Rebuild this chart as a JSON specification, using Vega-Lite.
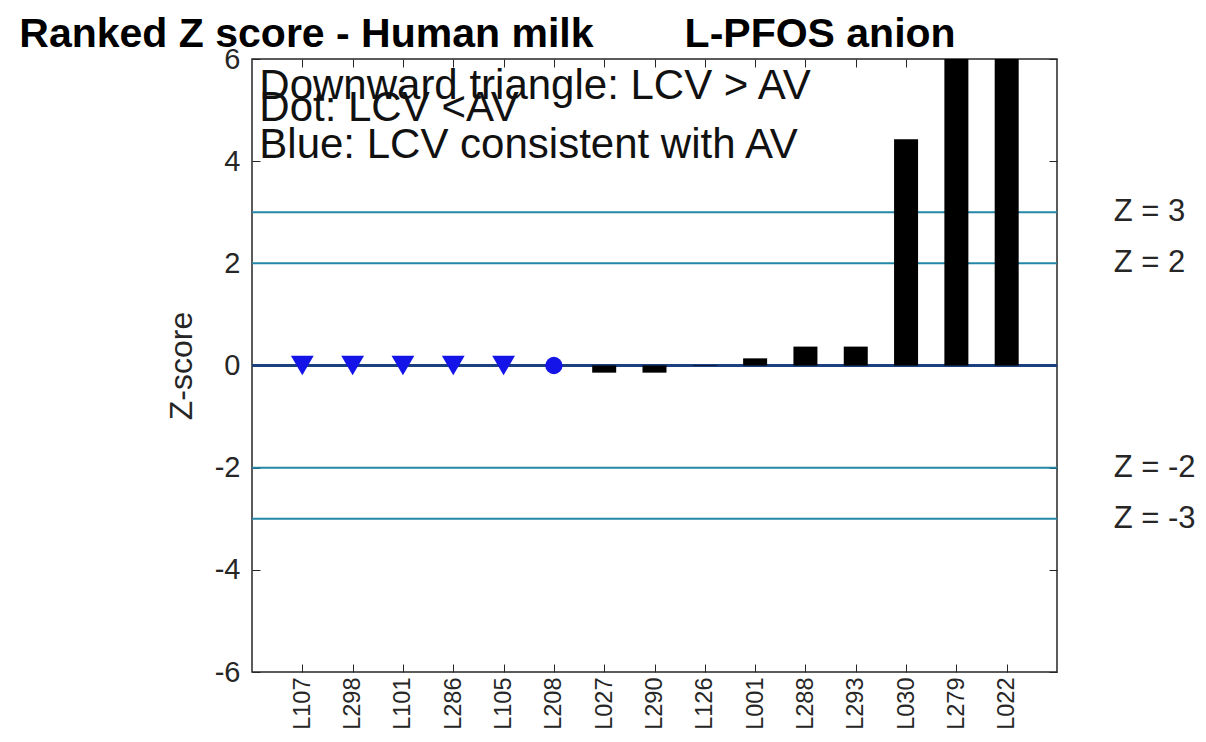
{
  "$schema": "https://vega.github.io/schema/vega-lite/v6.json",
  "autosize": "none",
  "width": 805,
  "height": 613,
  "padding": {"left": 252, "top": 59, "right": 149, "bottom": 70},
  "background": "white",
  "config": {
    "font": "Liberation Sans",
    "view": {"stroke": "#262626", "strokeWidth": 1.5},
    "axis": {"grid": false, "domain": false, "labelColor": "#262626", "titleColor": "#262626", "tickColor": "#262626", "labelFont": "Liberation Sans", "titleFont": "Liberation Sans"}
  },
  "datasets": {
    "scores": [
      {"lab": "L107", "z": 0, "kind": "tri"},
      {"lab": "L298", "z": 0, "kind": "tri"},
      {"lab": "L101", "z": 0, "kind": "tri"},
      {"lab": "L286", "z": 0, "kind": "tri"},
      {"lab": "L105", "z": 0, "kind": "tri"},
      {"lab": "L208", "z": 0, "kind": "dot"},
      {"lab": "L027", "z": -0.14, "kind": "bar"},
      {"lab": "L290", "z": -0.14, "kind": "bar"},
      {"lab": "L126", "z": 0.01, "kind": "bar"},
      {"lab": "L001", "z": 0.14, "kind": "bar"},
      {"lab": "L288", "z": 0.37, "kind": "bar"},
      {"lab": "L293", "z": 0.37, "kind": "bar"},
      {"lab": "L030", "z": 4.43, "kind": "bar"},
      {"lab": "L279", "z": 6.8, "kind": "bar"},
      {"lab": "L022", "z": 7.9, "kind": "bar"}
    ],
    "limits": [
      {"v": 3, "label": "Z = 3"},
      {"v": 2, "label": "Z = 2"},
      {"v": -2, "label": "Z = -2"},
      {"v": -3, "label": "Z = -3"}
    ],
    "notes": [
      {"t": "Downward triangle: LCV > AV", "pos": 5.22},
      {"t": "Dot: LCV <AV", "pos": 4.78},
      {"t": "Blue: LCV consistent with AV", "pos": 4.07}
    ],
    "heading": [
      {"t": "Ranked Z score - Human milk\u00a0\u00a0\u00a0\u00a0\u00a0\u00a0\u00a0\u00a0L-PFOS anion", "pos": 6}
    ]
  },
  "resolve": {"axis": {"x": "independent", "y": "independent"}},
  "layer": [
    {
      "data": {"name": "limits"},
      "mark": {"type": "rule", "color": "#2587a8", "strokeWidth": 2},
      "encoding": {
        "y": {"field": "v", "type": "quantitative", "scale": {"domain": [-6, 6], "nice": false, "clamp": true}, "axis": null}
      }
    },
    {
      "data": {"values": [{"v": 0}]},
      "mark": {"type": "rule", "color": "#1b3f7f", "strokeWidth": 3},
      "encoding": {
        "y": {"field": "v", "type": "quantitative", "axis": null}
      }
    },
    {
      "data": {"name": "scores"},
      "transform": [{"filter": "datum.kind === 'bar'"}],
      "mark": {"type": "bar", "color": "black", "size": 24, "clip": true},
      "encoding": {
        "x": {
          "field": "lab", "type": "nominal", "sort": null,
          "scale": {"type": "point", "padding": 1,
            "domain": ["L107","L298","L101","L286","L105","L208","L027","L290","L126","L001","L288","L293","L030","L279","L022"]},
          "axis": {"orient": "bottom", "title": null, "labelAngle": -90, "labelFontSize": 23.5, "tickSize": -8, "labelPadding": 13, "labelAlign": "right", "labelBaseline": "middle"}
        },
        "y": {
          "field": "z", "type": "quantitative",
          "axis": {"orient": "left", "title": "Z-score", "titleFontSize": 32, "titleFontWeight": "normal", "titlePadding": 16, "values": [-6,-4,-2,0,2,4,6], "labelExpr": "'' + datum.value", "labelFontSize": 29, "tickSize": -8, "labelPadding": 20}
        }
      }
    },
    {
      "data": {"name": "scores"},
      "transform": [{"filter": "datum.kind !== 'bar'"}],
      "mark": {"type": "point", "filled": true, "color": "#1414e8", "opacity": 1},
      "encoding": {
        "x": {"field": "lab", "type": "nominal", "sort": null,
          "axis": {"orient": "top", "title": null, "labels": false, "tickSize": -8}},
        "y": {"field": "z", "type": "quantitative",
          "axis": {"orient": "right", "title": null, "labels": false, "tickSize": -8, "values": [-6,-4,-2,0,2,4,6]}},
        "shape": {"field": "kind", "type": "nominal", "scale": {"domain": ["tri", "dot"], "range": ["triangle-down", "circle"]}, "legend": null},
        "size": {"field": "kind", "type": "nominal", "scale": {"domain": ["tri", "dot"], "range": [520, 300]}, "legend": null}
      }
    },
    {
      "data": {"name": "limits"},
      "mark": {"type": "text", "align": "left", "baseline": "middle", "dx": 107, "fontSize": 31, "color": "#262626", "clip": false},
      "encoding": {
        "x": {"datum": "L022", "type": "nominal", "axis": null},
        "y": {"field": "v", "type": "quantitative", "axis": null},
        "text": {"field": "label"}
      }
    },
    {
      "data": {"name": "notes"},
      "mark": {"type": "text", "align": "left", "baseline": "alphabetic", "dx": -43, "fontSize": 42, "color": "#111111"},
      "encoding": {
        "x": {"datum": "L107", "type": "nominal", "axis": null},
        "y": {"field": "pos", "type": "quantitative", "axis": null},
        "text": {"field": "t"}
      }
    },
    {
      "data": {"name": "heading"},
      "mark": {"type": "text", "align": "left", "baseline": "alphabetic", "dx": -283, "dy": -12, "fontSize": 41, "fontWeight": "bold", "color": "black", "clip": false},
      "encoding": {
        "x": {"datum": "L107", "type": "nominal", "axis": null},
        "y": {"field": "pos", "type": "quantitative", "axis": null},
        "text": {"field": "t"}
      }
    }
  ]
}
